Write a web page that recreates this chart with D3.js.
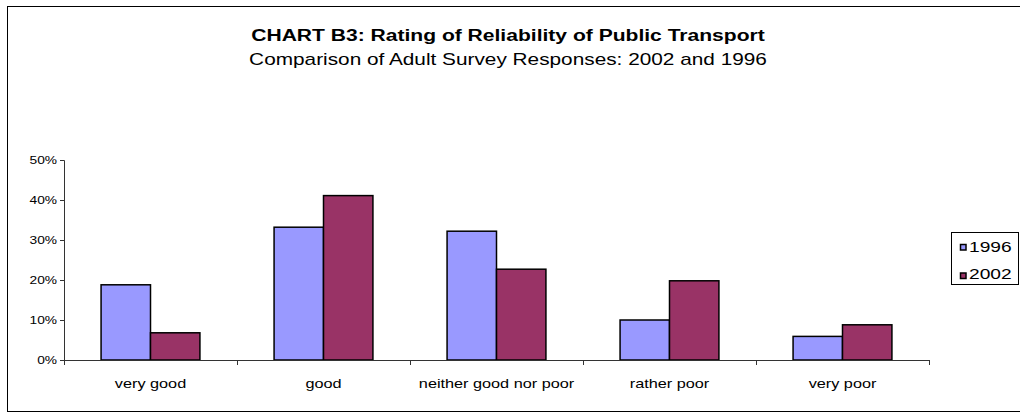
<!DOCTYPE html>
<html>
<head>
<meta charset="utf-8">
<script src="https://cdn.jsdelivr.net/npm/d3@7"></script>
<style>
  body { margin: 0; background: #fff; }
  svg { display: block; font-family: "Liberation Sans", Arial, sans-serif; }
</style>
</head>
<body>
<div id="chart"></div>
<script>
var width = 1020;
var height = 414;

var categories = ["very good", "good", "neither good nor poor", "rather poor", "very poor"];
var seriesNames = ["1996", "2002"];
var values1996 = [18.8, 33.2, 32.2, 10.0, 5.9];
var values2002 = [6.8, 41.1, 22.7, 19.8, 8.8];
var yTicks = [0, 10, 20, 30, 40, 50];
var colors = ["#9999FF", "#993366"];

var series = [values1996, values2002];

var svg = d3.select("#chart").append("svg")
  .attr("width", width)
  .attr("height", height);

// the original renders its text a bit wider than the font, stretch it out
var stretchText = function(parent, x, y, sx, size, txt){
  return parent.append("text")
    .attr("transform", "translate(" + x + "," + y + ") scale(" + sx + ",1)")
    .style("font-size", size + "px")
    .text(txt);
};

// outer chart border
svg.append("rect")
  .attr("x", 7.5).attr("y", 6.5)
  .attr("width", 1030).attr("height", 405)
  .attr("fill", "none").attr("stroke", "#000").attr("stroke-width", 1);

stretchText(svg, 508, 41, 1.24, 17, "CHART B3: Rating of Reliability of Public Transport")
  .attr("text-anchor", "middle").style("font-weight", "bold");
stretchText(svg, 508, 65, 1.3, 16, "Comparison of Adult Survey Responses: 2002 and 1996")
  .attr("text-anchor", "middle");

var x0 = d3.scaleBand().domain(categories).range([64, 929]).paddingInner(0).paddingOuter(0);
var x1 = d3.scaleBand().domain(seriesNames).range([0, x0.bandwidth()]).paddingInner(0).paddingOuter(0.75);
var y = d3.scaleLinear().domain([0, 50]).range([360, 160]);

// y axis
var yAxis = svg.append("g")
  .attr("transform", "translate(64,0)")
  .call(d3.axisLeft(y).tickValues(yTicks).tickSize(4).tickPadding(3)
    .tickFormat(function(d){ return d + "%"; }));
yAxis.selectAll("path, line").attr("stroke", "#333");
yAxis.selectAll("text")
  .attr("x", 0)
  .attr("transform", "translate(-7,0) scale(1.25,1)")
  .style("font-size", "11px").attr("fill", "#000")
  .style("font-family", "'Liberation Sans', Arial, sans-serif");

// bars
var groups = svg.selectAll("g.cat")
  .data(categories)
  .enter().append("g")
  .attr("class", "cat")
  .attr("transform", function(d){ return "translate(" + x0(d) + ",0)"; });

groups.selectAll("rect")
  .data(function(d, i){
    return series.map(function(s, j){ return {name: seriesNames[j], value: s[i], idx: j}; });
  })
  .enter().append("rect")
  .attr("x", function(d){ return x1(d.name); })
  .attr("y", function(d){ return y(d.value); })
  .attr("width", x1.bandwidth())
  .attr("height", function(d){ return y(0) - y(d.value); })
  .attr("fill", function(d){ return colors[d.idx]; })
  .attr("stroke", "#000")
  .attr("stroke-width", 1.5);

// x axis
var xAxisG = svg.append("g");
xAxisG.append("line")
  .attr("x1", 64).attr("x2", 929)
  .attr("y1", y(0) + 0.5).attr("y2", y(0) + 0.5)
  .attr("stroke", "#333");
xAxisG.selectAll("line.tick")
  .data(categories.concat(["end"]))
  .enter().append("line")
  .attr("class", "tick")
  .attr("x1", function(d, i){ return 64.5 + i * x0.bandwidth(); })
  .attr("x2", function(d, i){ return 64.5 + i * x0.bandwidth(); })
  .attr("y1", y(0)).attr("y2", y(0) + 5)
  .attr("stroke", "#333");
categories.forEach(function(c){
  stretchText(xAxisG, x0(c) + x0.bandwidth() / 2, 388, 1.25, 13, c)
    .attr("text-anchor", "middle");
});

// legend
var legend = svg.append("g").attr("transform", "translate(951,232)");
legend.append("rect")
  .attr("x", 0.5).attr("y", 0.5).attr("width", 67).attr("height", 52)
  .attr("fill", "#fff").attr("stroke", "#000");
seriesNames.forEach(function(name, i){
  legend.append("rect")
    .attr("x", 9.5).attr("y", 12.5 + i * 28.5)
    .attr("width", 5.5).attr("height", 5.5)
    .attr("fill", colors[i]).attr("stroke", "#000").attr("stroke-width", 1.5);
  stretchText(legend, 18, 19.5 + i * 27.5, 1.28, 15, name);
});
</script>
</body>
</html>
